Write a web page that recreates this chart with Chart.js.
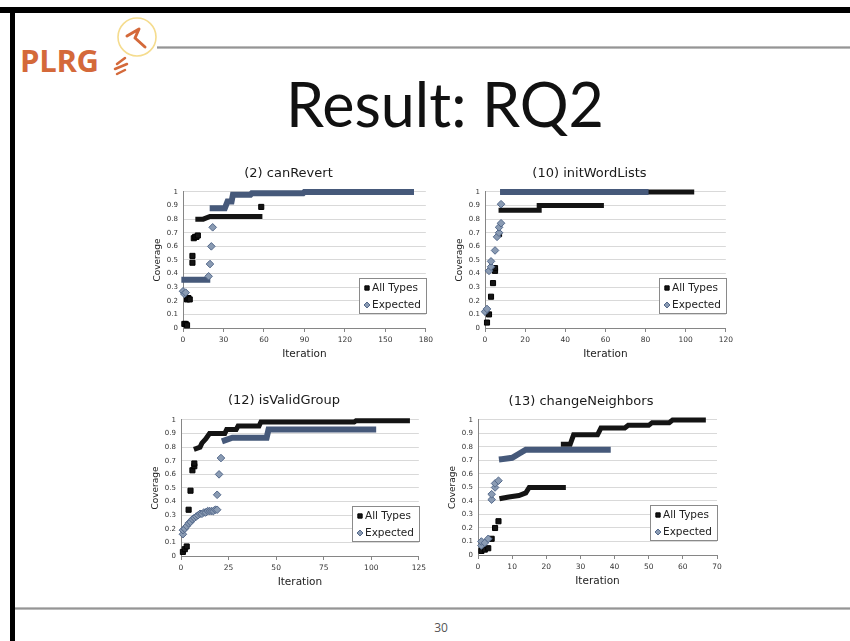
<!DOCTYPE html>
<html>
<head>
<meta charset="utf-8">
<script src="https://cdn.jsdelivr.net/npm/chart.js@4.4.0/dist/chart.umd.min.js"></script>
<style>
html,body{margin:0;padding:0;background:#fff;}
body{width:850px;height:641px;position:relative;overflow:hidden;}
.bar{position:absolute;background:#000;}
#logo{position:absolute;left:20px;top:45px;font-family:"Open Sans",sans-serif;font-weight:700;font-size:31px;line-height:31px;color:#d4693a;letter-spacing:-0.3px;}
#bulb{position:absolute;left:105px;top:14px;}
#hline{position:absolute;left:157px;top:46px;width:693px;height:3px;background:linear-gradient(#cfcfcf,#959595,#cfcfcf);}
#title{position:absolute;left:286px;top:73px;font-family:Lato,sans-serif;font-size:61px;line-height:61px;color:#111;white-space:nowrap;}
#fline{position:absolute;left:15px;top:607px;width:835px;height:3px;background:linear-gradient(#cfcfcf,#959595,#cfcfcf);}
#pnum{position:absolute;left:441px;top:621px;transform:translateX(-50%);font-family:"Open Sans",sans-serif;font-size:12px;line-height:14px;color:#555;}
canvas{position:absolute;}
</style>
</head>
<body>
<div class="bar" style="left:0;top:7px;width:850px;height:6px;"></div>
<div class="bar" style="left:10px;top:7px;width:5px;height:634px;"></div>
<div id="logo">PLRG</div>
<svg id="bulb" width="60" height="70" viewBox="0 0 60 70">
  <circle cx="32" cy="23" r="19" fill="none" stroke="#f5dc8e" stroke-width="1.6"/>
  <path d="M22 22 L34 15 L30 24 L40 33" fill="none" stroke="#d4693a" stroke-width="3" stroke-linecap="round" stroke-linejoin="round"/>
  <path d="M12 50 L20 44 M10 55 L22 50 M12 60 L20 56" fill="none" stroke="#d4693a" stroke-width="2.5" stroke-linecap="round"/>
</svg>
<div id="hline"></div>
<div id="title">Result: RQ2</div>
<div id="fline"></div>
<div id="pnum">30</div>

<canvas id="c1" width="287" height="201" style="left:150px;top:162px;"></canvas>
<canvas id="c2" width="285" height="201" style="left:452px;top:162px;"></canvas>
<canvas id="c3" width="282" height="201" style="left:148px;top:390px;"></canvas>
<canvas id="c4" width="282" height="200" style="left:445px;top:390px;"></canvas>

<script>
// ---------- data ----------
const seriesNames = ["All Types", "Expected"];
const chartTitles = ["(2) canRevert", "(10) initWordLists", "(12) isValidGroup", "(13) changeNeighbors"];
const xAxisTitle = "Iteration";
const yAxisTitle = "Coverage";
const coverageTicks = [0, 0.1, 0.2, 0.3, 0.4, 0.5, 0.6, 0.7, 0.8, 0.9, 1];

const canRevertTicks = [0, 30, 60, 90, 120, 150, 180];
const canRevertAllDots = [[1,0.03],[2,0.03],[3,0.02],[3,0.21],[4,0.22],[5,0.21],[7,0.53],[7,0.48],[8,0.66],[9,0.67],[10,0.67],[11,0.68],[58,0.89]];
const canRevertAllSteps = [[[11,0.8],[15,0.8],[20,0.82],[57,0.82]]];
const canRevertExpDots = [[0,0.27],[1,0.25],[2,0.26],[19,0.38],[20,0.47],[21,0.6],[22,0.74]];
const canRevertExpSteps = [[[1,0.355],[18,0.355]],[[22,0.88],[31,0.88],[33,0.93],[36,0.93],[37,0.98],[50,0.98],[51,0.99],[89,0.99],[90,1],[169,1]]];

const initWordTicks = [0, 20, 40, 60, 80, 100, 120];
const initWordAllDots = [[1,0.04],[2,0.1],[3,0.23],[4,0.33],[5,0.42],[5,0.44],[7,0.69]];
const initWordAllSteps = [[[8,0.865],[27,0.865],[27,0.9],[58,0.9]],[[9,1],[103,1]]];
const initWordExpDots = [[0,0.12],[1,0.14],[2,0.42],[3,0.45],[3,0.49],[5,0.57],[6,0.67],[7,0.7],[7,0.74],[8,0.77],[8,0.91]];
const initWordExpSteps = [[[9,1],[80,1]]];

const isValidTicks = [0, 25, 50, 75, 100, 125];
const isValidAllDots = [[1,0.03],[2,0.05],[3,0.07],[4,0.34],[5,0.48],[6,0.63],[7,0.66],[7,0.68]];
const isValidAllSteps = [[[8,0.79],[10,0.8],[11,0.83],[13,0.86],[15,0.9],[23,0.9],[24,0.93],[29,0.93],[30,0.955],[41,0.955],[42,0.985],[91,0.985],[92,0.995],[119,0.995]]];
const isValidExpDots = [[1,0.16],[1,0.19],[2,0.2],[3,0.22],[4,0.24],[5,0.25],[6,0.27],[7,0.28],[8,0.29],[9,0.3],[10,0.31],[11,0.31],[12,0.32],[13,0.32],[14,0.33],[15,0.33],[16,0.33],[17,0.33],[18,0.34],[19,0.34],[19,0.45],[20,0.6],[21,0.72]];
const isValidExpSteps = [[[23,0.85],[27,0.87],[45,0.87],[46,0.93],[101,0.93]]];

const changeNbTicks = [0, 10, 20, 30, 40, 50, 60, 70];
const changeNbAllDots = [[1,0.03],[2,0.04],[3,0.05],[4,0.12],[5,0.2],[6,0.25]];
const changeNbAllSteps = [[[7,0.42],[9,0.43],[12,0.44],[14,0.46],[15,0.5],[25,0.5]],[[25,0.82],[27,0.82],[28,0.89],[35,0.89],[36,0.94],[43,0.94],[44,0.96],[50,0.96],[51,0.98],[56,0.98],[57,1],[66,1]]];
const changeNbExpDots = [[1,0.07],[1,0.1],[2,0.09],[3,0.12],[4,0.41],[4,0.45],[5,0.5],[5,0.53],[6,0.55]];
const changeNbExpSteps = [[[7,0.71],[10,0.72],[12,0.75],[14,0.78],[38,0.78]]];

// ---------- helpers ----------
const FONT = '"DejaVu Sans", sans-serif';
const ALL_COLOR = '#141414';
const EXP_FILL = '#8a9bb3';
const EXP_EDGE = '#53688a';
const EXP_LINE = '#46597a';

function pts(a){ return a.map(p => ({x:p[0], y:p[1]})); }
function polylines(ls){
  const out = [];
  ls.forEach((l,i) => {
    if (i > 0) out.push({x:l[0][0], y:null});
    l.forEach(p => out.push({x:p[0], y:p[1]}));
  });
  return out;
}
function datasets(allDots, allSteps, expDots, expSteps){
  return [
    {label:seriesNames[1], legendEntry:2, data:pts(expDots), pointStyle:'rectRot', pointRadius:3.8,
     backgroundColor:EXP_FILL, borderColor:EXP_EDGE, borderWidth:1, showLine:false, order:0, clip:false},
    {label:seriesNames[1]+' run', data:polylines(expSteps), showLine:true, spanGaps:false, pointRadius:0,
     borderColor:EXP_LINE, borderWidth:6, borderCapStyle:'square', order:0, clip:false},
    {label:seriesNames[0], legendEntry:1, data:pts(allDots), pointStyle:'rect', pointRadius:3.6,
     backgroundColor:ALL_COLOR, borderColor:'#000', borderWidth:1, showLine:false, order:1, clip:false},
    {label:seriesNames[0]+' run', data:polylines(allSteps), showLine:true, spanGaps:false, pointRadius:0,
     borderColor:ALL_COLOR, borderWidth:5, borderCapStyle:'square', order:1, clip:false}
  ];
}

function drawMarker(ctx, style, x, y, r){
  ctx.beginPath();
  if (style === 'rect') { const s = r*0.72; ctx.rect(x-s, y-s, 2*s, 2*s); }
  else { ctx.moveTo(x, y-r); ctx.lineTo(x+r, y); ctx.lineTo(x, y+r); ctx.lineTo(x-r, y); ctx.closePath(); }
  ctx.fill(); ctx.stroke();
}

const insideLegend = {
  id: 'insideLegend',
  afterDatasetsDraw(chart){
    const {ctx, chartArea:a} = chart;
    const w = 68, h = 36;
    const x = Math.round(a.right - w + 1), y = Math.round(a.bottom - 14 - h);
    ctx.save();
    ctx.fillStyle = '#fff'; ctx.fillRect(x, y, w, h);
    ctx.strokeStyle = '#8a8a8a'; ctx.lineWidth = 1; ctx.strokeRect(x+0.5, y+0.5, w-1, h-1);
    const items = chart.data.datasets.filter(d => d.legendEntry).sort((p,q) => p.legendEntry - q.legendEntry);
    items.forEach((d,i) => {
      const cy = y + 10 + i*17;
      ctx.fillStyle = d.backgroundColor; ctx.strokeStyle = d.borderColor; ctx.lineWidth = 1;
      drawMarker(ctx, d.pointStyle, x + 8, cy, 3);
      ctx.fillStyle = '#222'; ctx.font = '10.5px ' + FONT; ctx.textBaseline = 'middle'; ctx.textAlign = 'left';
      ctx.fillText(d.label, x + 13, cy);
    });
    ctx.restore();
  }
};

function build(id, title, xTicks, ds, titlePad){
  const xmax = xTicks[xTicks.length-1];
  return new Chart(document.getElementById(id), {
    type: 'scatter',
    data: { datasets: ds },
    options: {
      responsive: false, animation: false, devicePixelRatio: 1,
      layout: { padding: { left: 0, right: 10, top: 0, bottom: 0 } },
      plugins: {
        legend: { display: false },
        tooltip: { enabled: false },
        title: { display: true, text: title, color: '#1a1a1a',
                 font: { family: FONT, size: 13, weight: 'normal', lineHeight: 1.15 },
                 padding: { top: titlePad[0], bottom: titlePad[1] } }
      },
      scales: {
        x: {
          type: 'linear', min: 0, max: xmax,
          afterBuildTicks: s => { s.ticks = xTicks.map(v => ({value: v})); },
          afterFit: s => { s.height = 35; },
          grid: { drawOnChartArea: false, drawTicks: true, tickLength: 4, color: '#868686' },
          border: { color: '#868686' },
          ticks: { font: { family: FONT, size: 7.5 }, color: '#333', padding: 4, maxRotation: 0, autoSkip: false,
                   callback: v => String(v) },
          title: { display: true, text: xAxisTitle, color: '#222', font: { family: FONT, size: 10.5 },
                   padding: { top: 0, bottom: 2 } }
        },
        y: {
          type: 'linear', min: 0, max: 1,
          afterBuildTicks: s => { s.ticks = coverageTicks.map(v => ({value: v})); },
          afterFit: s => { s.width = 33; },
          grid: { color: '#d9d9d9', drawTicks: false },
          border: { color: '#868686' },
          ticks: { font: { family: FONT, size: 7 }, color: '#333', padding: 5, callback: v => String(v) },
          title: { display: true, text: yAxisTitle, color: '#222', font: { family: FONT, size: 9 },
                   padding: { top: 2, bottom: 0 } }
        }
      }
    },
    plugins: [insideLegend]
  });
}

build('c1', chartTitles[0], canRevertTicks, datasets(canRevertAllDots, canRevertAllSteps, canRevertExpDots, canRevertExpSteps), [4, 11]);
build('c2', chartTitles[1], initWordTicks, datasets(initWordAllDots, initWordAllSteps, initWordExpDots, initWordExpSteps), [4, 11]);
build('c3', chartTitles[2], isValidTicks, datasets(isValidAllDots, isValidAllSteps, isValidExpDots, isValidExpSteps), [3, 12]);
build('c4', chartTitles[3], changeNbTicks, datasets(changeNbAllDots, changeNbAllSteps, changeNbExpDots, changeNbExpSteps), [4, 11]);
</script>
</body>
</html>
